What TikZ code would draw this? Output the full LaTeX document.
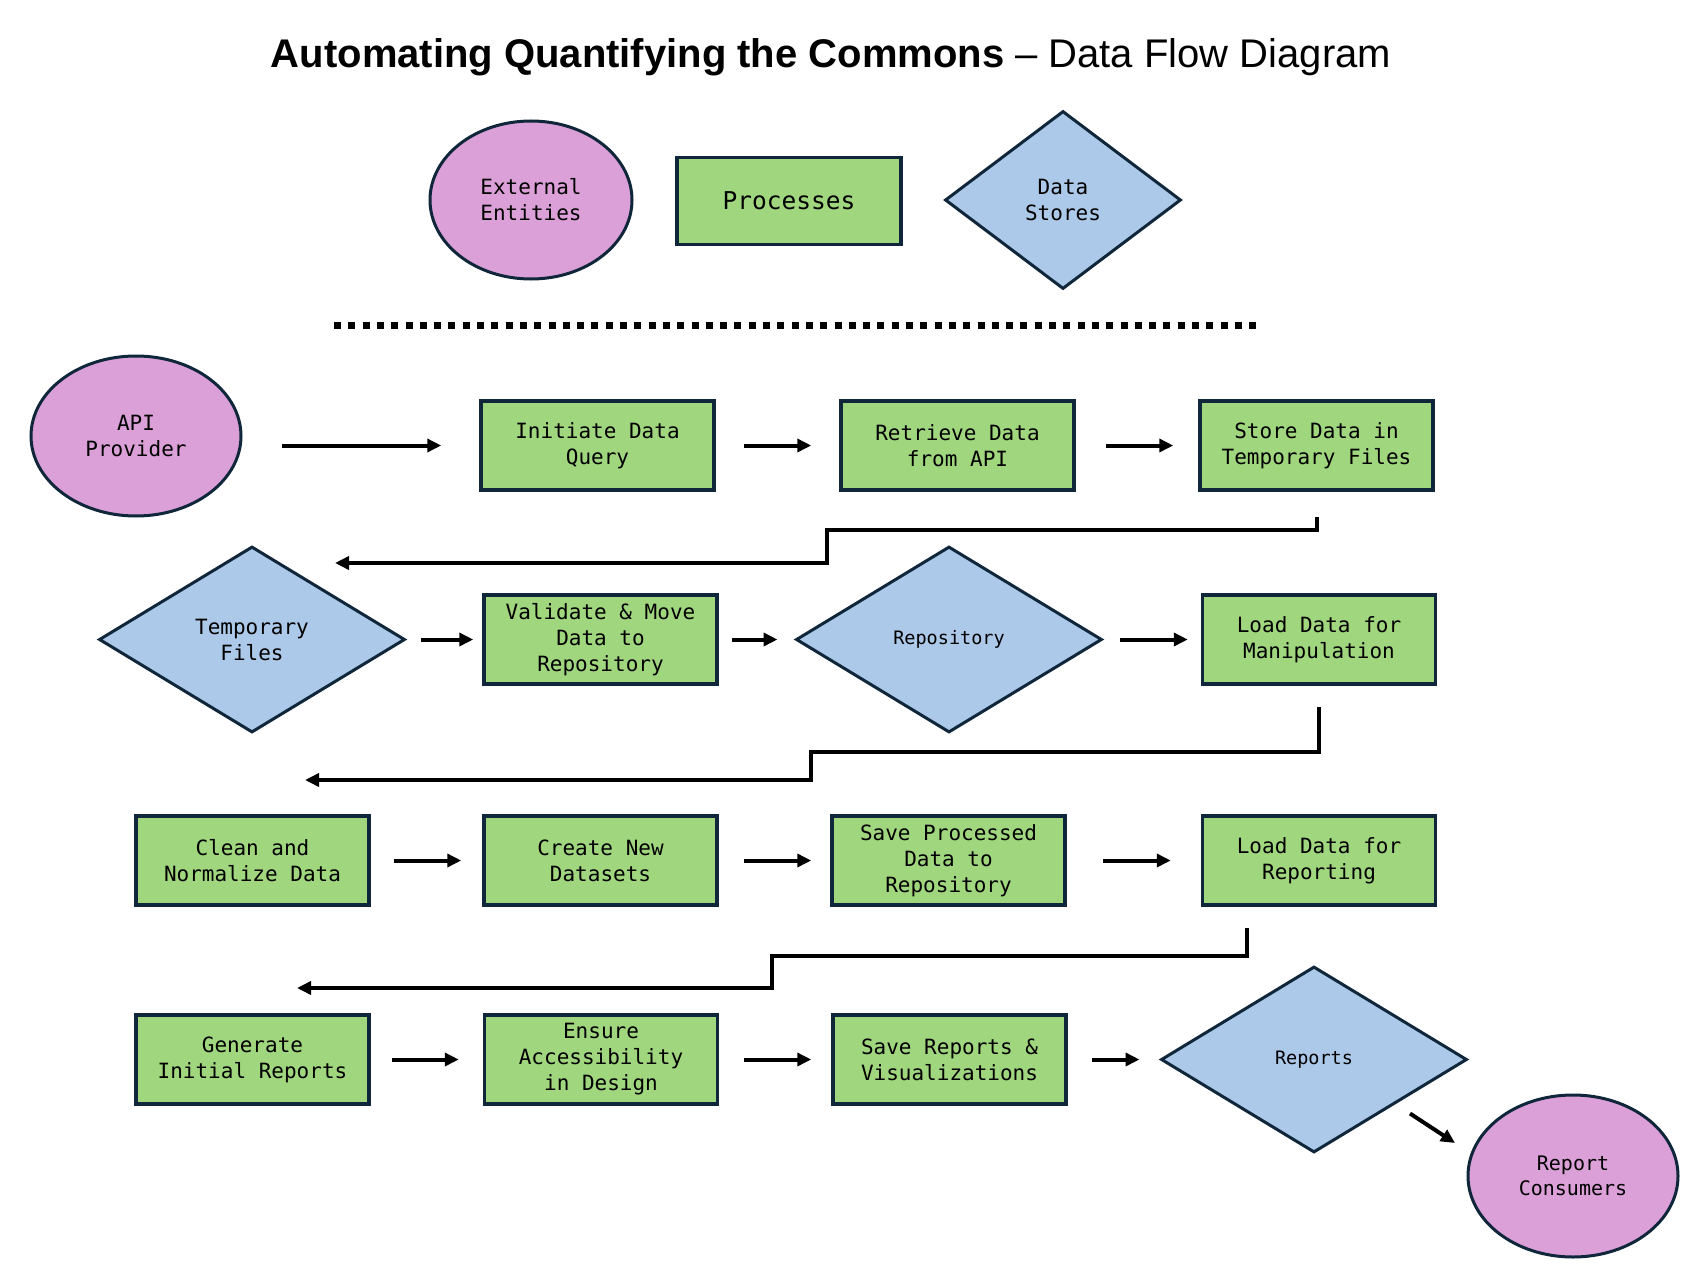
\documentclass[tikz,border=0pt]{standalone}
\usepackage{fontspec}
\setmainfont{Liberation Sans}
\newfontfamily\monofont{DejaVu Sans Mono}
\usetikzlibrary{shapes.geometric,arrows.meta,calc}
\definecolor{entfill}{HTML}{DBA0D8}
\definecolor{procfill}{HTML}{A0D77E}
\definecolor{storefill}{HTML}{ADC9E9}
\definecolor{edge}{HTML}{10263A}
\begin{document}
\begin{tikzpicture}[x=1pt,y=-1pt,
  base/.style={font=\monofont\fontsize{21}{26}\selectfont, align=center, text=black, draw=edge, inner sep=0pt},
  proc/.style={base, rectangle, fill=procfill, line width=3.5pt, minimum width=233pt, minimum height=89pt},
  ent/.style={base, ellipse, fill=entfill, line width=3pt},
  store/.style={base, diamond, fill=storefill, line width=3pt},
  arr/.style={line width=4pt, draw=black, -{Triangle[length=14pt,width=13pt]}},
  conn/.style={arr}
]
\useasboundingbox (0,0) rectangle (1706,1271);
\fill[white] (0,0) rectangle (1706,1271);

% title
\node[anchor=base, inner sep=0pt, font=\fontsize{40}{48}\selectfont] (title) at (831,68)
  {\textbf{Automating Quantifying the Commons} – Data Flow Diagram};

% legend
\node[ent, minimum width=202pt, minimum height=158pt] (le) at (531,200) {External\\Entities};
\node[proc, minimum width=224pt, minimum height=87pt, font=\monofont\fontsize{24.5}{28}\selectfont] (lp) at (789,201) {Processes};
\node[store, minimum width=236pt, minimum height=178pt] (ls) at (1063,200) {Data\\Stores};

\draw[line width=7pt, dash pattern=on 7pt off 7.3pt] (334,325) -- (1262,325);

% row 1
\node[ent, minimum width=210pt, minimum height=160pt] (api) at (136,436) {API\\Provider};
\node[proc] (iq) at (597.5,445.5) {Initiate Data\\Query};
\node[proc] (rd) at (957.5,445.5) {Retrieve Data\\from API};
\node[proc] (st) at (1316.5,445.5) {Store Data in\\Temporary Files};

\draw[arr, shorten <=39pt, shorten >=38pt, yshift=3.5pt] (iq.west -| api.east) -- (iq.west);
\draw[arr, shorten <=28pt, shorten >=28pt, yshift=3.5pt] (iq.east) -- (rd.west);
\draw[arr, shorten <=30pt, shorten >=25pt, yshift=1.5pt] (rd.east) -- (st.west);

% row 2
\node[store, minimum width=306pt, minimum height=186pt] (tf) at (252,639.5) {Temporary\\Files};
\node[proc] (vm) at (600.5,639.5) {Validate \& Move\\Data to\\Repository};
\node[store, minimum width=306pt, minimum height=186pt, font=\monofont\fontsize{18.5}{24}\selectfont] (repo) at (949,639.5) {Repository};
\node[proc] (lm) at (1319,639.5) {Load Data for\\Manipulation};

\coordinate (k1) at (827,530);
\coordinate (e1) at (335,563);
\draw[conn] ([yshift=-25pt]st.south) |- (k1) |- (e1);

\draw[arr, shorten <=14pt, shorten >=9pt] (tf.east) -- (vm.west);
\draw[arr, shorten <=13pt, shorten >=17pt] (vm.east) -- (repo.west);
\draw[arr, shorten <=16pt, shorten >=13pt] (repo.east) -- (lm.west);

% row 3
\node[proc] (cn) at (252.5,860.5) {Clean and\\Normalize Data};
\node[proc] (cd) at (600.5,860.5) {Create New\\Datasets};
\node[proc] (sp) at (948.5,860.5) {Save Processed\\Data to\\Repository};
\node[proc] (lr) at (1319,860.5) {Load Data for\\Reporting};

\coordinate (k2) at (811,752);
\coordinate (e2) at (305,780);
\draw[conn] ([yshift=-21pt]lm.south) |- (k2) |- (e2);

\draw[arr, shorten <=23pt, shorten >=21pt] (cn.east) -- (cd.west);
\draw[arr, shorten <=25pt, shorten >=19pt] (cd.east) -- (sp.west);
\draw[arr, shorten <=36pt, shorten >=30pt] (sp.east) -- (lr.west);

% row 4
\node[proc] (gi) at (252.5,1059.5) {Generate\\Initial Reports};
\node[proc] (ea) at (601,1059.5) {Ensure\\Accessibility\\in Design};
\node[proc] (sr) at (949.5,1059.5) {Save Reports \&\\Visualizations};
\node[store, minimum width=306pt, minimum height=186pt, font=\monofont\fontsize{18.5}{24}\selectfont] (rep) at (1314,1059.5) {Reports};
\node[ent, minimum width=210pt, minimum height=162pt, font=\monofont\fontsize{20}{25}\selectfont] (rc) at (1573,1176) {Report\\Consumers};

\coordinate (k3) at (772,956);
\coordinate (e3) at (297,988);
\draw[conn] ([xshift=-72pt,yshift=-21pt]lr.south) |- (k3) |- (e3);

\draw[arr, shorten <=21pt, shorten >=24pt] (gi.east) -- (ea.west);
\draw[arr, shorten <=25pt, shorten >=20pt, yshift=2.5pt] (ea.east) -- (sr.west);
\draw[arr, shorten <=24pt, shorten >=20pt, yshift=2.5pt] (sr.east) -- (rep.west);

\path (rep.center) ++(96,54) coordinate (d1);
\path (rc.center) ++(-118,-33) coordinate (d2);
\draw[arr] (d1) -- (d2);
\end{tikzpicture}
\end{document}
